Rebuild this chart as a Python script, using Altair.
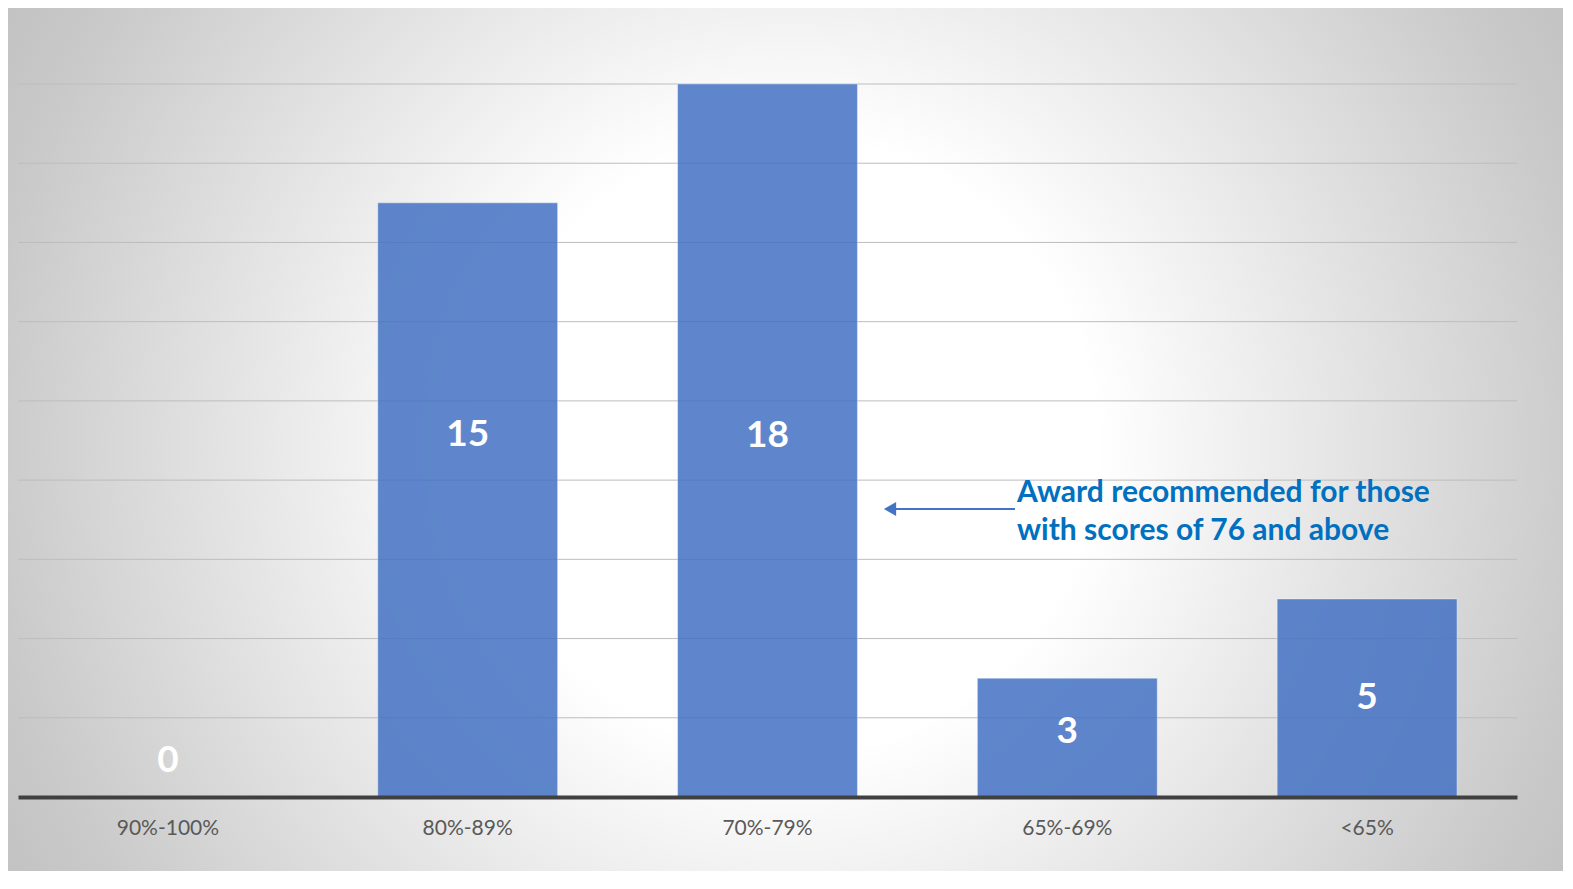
import altair as alt
import pandas as pd

# ---- data ----
categories = ["90%-100%", "80%-89%", "70%-79%", "65%-69%", "<65%"]
counts = [0, 15, 18, 3, 5]
# vertical anchor (in count units) of each value label, as placed in the picture
label_anchor = [0.9, 9.14, 9.11, 1.64, 2.5]
grid_values = [2, 4, 6, 8, 10, 12, 14, 16, 18]
annotation_lines = ["Award recommended for those", "with scores of 76 and above"]

W, H = 1499, 713
df = pd.DataFrame({"cat": categories, "count": counts, "anchor": label_anchor})

xscale = alt.Scale(domain=categories, paddingInner=0.4, paddingOuter=0.2)
yscale = alt.Scale(domain=[0, 18], nice=False, zero=True)

bg = alt.Chart(alt.Data(values=[{"k": 1}])).mark_rect(
    fill=alt.RadialGradient(
        gradient="radial", x1=0.5, y1=0.5, r1=0, x2=0.5, y2=0.5, r2=0.5,
        stops=[
            alt.GradientStop(color="#ffffff", offset=0),
            alt.GradientStop(color="#ffffff", offset=0.34),
            alt.GradientStop(color="#c9c9c9", offset=0.9),
            alt.GradientStop(color="#c2c2c2", offset=1),
        ],
    ),
    strokeWidth=0,
).encode(
    x=alt.value(-128), x2=alt.value(1672), y=alt.value(-539), y2=alt.value(1261)
)

grid = alt.Chart(pd.DataFrame({"g": grid_values})).mark_rule(
    color="#bdbdbd", strokeWidth=1
).encode(y=alt.Y("g:Q", scale=yscale, axis=None))

bars = alt.Chart(df).mark_bar(
    color="#4472c4", opacity=0.85, stroke="#ffffff", strokeOpacity=0.4, strokeWidth=1
).encode(
    x=alt.X(
        "cat:N", sort=categories, scale=xscale,
        axis=alt.Axis(
            title=None, labelFont="Lato", labelFontSize=21, labelColor="#595959",
            labelAngle=0, ticks=False, tickSize=0, domainColor="#404040",
            domainWidth=4, labelPadding=31, labelBaseline="middle", grid=False,
            zindex=1,
        ),
    ),
    y=alt.Y("count:Q", scale=yscale, axis=None),
)

values = alt.Chart(df).mark_text(
    font="Lato", fontSize=37, fontWeight="bold", color="#ffffff", baseline="middle"
).encode(
    x=alt.X("cat:N", sort=categories, scale=xscale),
    y=alt.Y("anchor:Q", scale=yscale),
    text=alt.Text("count:Q"),
)

one = alt.Data(values=[{"k": 1}])
arrow_line = alt.Chart(one).mark_rule(color="#4472c4", strokeWidth=2).encode(
    x=alt.value(872), x2=alt.value(997), y=alt.value(425)
)
arrow_head = alt.Chart(one).mark_point(
    shape="triangle-left", filled=True, size=200, color="#4472c4", opacity=1
).encode(x=alt.value(872), y=alt.value(425))

note1 = alt.Chart(one).mark_text(
    text=annotation_lines[0], font="Lato", fontSize=30, fontWeight="bold",
    color="#0070c0", align="left", baseline="middle",
).encode(x=alt.value(999), y=alt.value(409))
note2 = alt.Chart(one).mark_text(
    text=annotation_lines[1], font="Lato", fontSize=30, fontWeight="bold",
    color="#0070c0", align="left", baseline="middle",
).encode(x=alt.value(999), y=alt.value(447))

chart = alt.layer(bg, grid, bars, values, arrow_line, arrow_head, note1, note2).properties(
    width=W, height=H,
    padding={"left": 10, "top": 76, "right": 46, "bottom": 74},
    autosize=alt.AutoSizeParams(type="none"),
).configure_view(stroke=None)

chart.save("out.html", embed_options={"renderer": "svg", "actions": False})
